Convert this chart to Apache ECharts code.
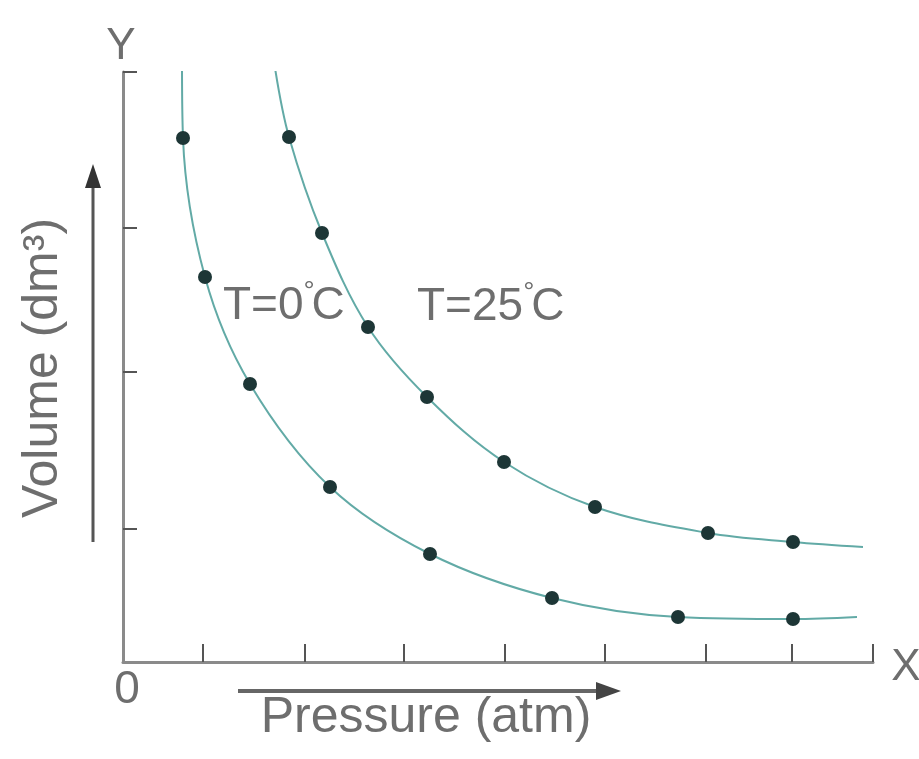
<!DOCTYPE html>
<html>
<head>
<meta charset="utf-8">
<script src="https://cdn.jsdelivr.net/npm/echarts@6/dist/echarts.min.js"></script>
<style>
  html, body { margin: 0; padding: 0; background: #fff; }
  #main { width: 919px; height: 759px; }
</style>
</head>
<body>
<div id="main"></div>
<script>
// 读图估计的数据 (pressure / volume, 任意单位)
var t0Pressure = [0.60, 0.82, 1.27, 2.07, 3.07, 4.29, 5.55, 6.70];
var t0Volume   = [5.24, 3.85, 2.78, 1.75, 1.08, 0.64, 0.45, 0.43];
var t0Ends     = [[0.59, 6.00], [7.34, 0.45]];

var t25Pressure = [1.66, 1.99, 2.45, 3.04, 3.81, 4.72, 5.85, 6.70];
var t25Volume   = [5.25, 4.29, 3.35, 2.65, 2.00, 1.55, 1.29, 1.20];
var t25Ends     = [[1.52, 5.94], [7.40, 1.15]];

// 刻度位置
var xTicks = [0.80, 1.82, 2.81, 3.82, 4.82, 5.83, 6.69, 7.5];
var yTicks = [1.33, 2.90, 4.34, 5.90];

var FONT = '"Liberation Sans", Arial, sans-serif';
var TXT = '#6e6e6e';

function curveData(px, vy, ends) {
    var d = [{value: ends[0], symbol: 'none'}];
    for (var i = 0; i < px.length; i++) {
        d.push([px[i], vy[i]]);
    }
    d.push({value: ends[1], symbol: 'none'});
    return d;
}

function curveSeries(px, vy, ends) {
    return {
        type: 'line',
        smooth: 0.35,
        data: curveData(px, vy, ends),
        symbol: 'circle',
        symbolSize: 14,
        showAllSymbol: true,
        lineStyle: {color: '#62aaa6', width: 2},
        itemStyle: {color: '#1d3636', borderWidth: 0},
        emphasis: {disabled: true},
        z: 3
    };
}

// 温度标签，度数符号抬高
function tempLabel(x, y, t) {
    return {
        type: 'text', x: x, y: y,
        style: {
            text: '{n|T=' + t + '}{d|°}{n|C}',
            textAlign: 'left', textVerticalAlign: 'middle',
            rich: {
                n: {font: '46px ' + FONT, fill: TXT, lineHeight: 56},
                d: {font: '28px ' + FONT, fill: TXT, verticalAlign: 'top', lineHeight: 56, width: 8}
            }
        }
    };
}

var chart = echarts.init(document.getElementById('main'));
var option = {
    animation: false,
    backgroundColor: '#fff',
    grid: {left: 123, right: 46, top: 72, bottom: 97},
    xAxis: {
        type: 'value',
        min: 0,
        max: 7.5,
        axisLine: {show: true, lineStyle: {color: '#8a8a8a', width: 3}},
        axisTick: {
            show: true, inside: true, length: 18,
            customValues: xTicks,
            lineStyle: {color: '#555', width: 2}
        },
        axisLabel: {show: false},
        splitLine: {show: false}
    },
    yAxis: {
        type: 'value',
        min: 0,
        max: 5.9,
        axisLine: {show: true, lineStyle: {color: '#8a8a8a', width: 3}},
        axisTick: {
            show: true, inside: true, length: 14,
            customValues: yTicks,
            lineStyle: {color: '#555', width: 2}
        },
        axisLabel: {show: false},
        splitLine: {show: false}
    },
    series: [
        curveSeries(t0Pressure, t0Volume, t0Ends),
        curveSeries(t25Pressure, t25Volume, t25Ends)
    ],
    graphic: [
        {type: 'text', x: 121, y: 47, style: {text: 'Y', font: '44px ' + FONT, fill: TXT, textAlign: 'center', textVerticalAlign: 'middle'}},
        {type: 'text', x: 906, y: 668, style: {text: 'X', font: '44px ' + FONT, fill: TXT, textAlign: 'center', textVerticalAlign: 'middle'}},
        {type: 'text', x: 127, y: 690, style: {text: '0', font: '46px ' + FONT, fill: TXT, textAlign: 'center', textVerticalAlign: 'middle'}},
        {type: 'text', x: 426, y: 718, style: {text: 'Pressure (atm)', font: '50px ' + FONT, fill: TXT, textAlign: 'center', textVerticalAlign: 'middle'}},
        {type: 'text', x: 43, y: 368, rotation: Math.PI / 2, style: {text: 'Volume (dm³)', font: '50px ' + FONT, fill: TXT, textAlign: 'center', textVerticalAlign: 'middle'}},
        tempLabel(223, 306, '0'),
        tempLabel(417, 307, '25'),
        // 压力方向箭头
        {type: 'line', shape: {x1: 238, y1: 691, x2: 600, y2: 691}, style: {stroke: '#666', lineWidth: 4}},
        {type: 'polygon', shape: {points: [[596, 682], [621, 691], [596, 700]]}, style: {fill: '#444'}},
        // 体积方向箭头
        {type: 'line', shape: {x1: 93, y1: 542, x2: 93, y2: 185}, style: {stroke: '#555', lineWidth: 3}},
        {type: 'polygon', shape: {points: [[85, 188], [93, 164], [101, 188]]}, style: {fill: '#333'}}
    ]
};
chart.setOption(option);
</script>
</body>
</html>
